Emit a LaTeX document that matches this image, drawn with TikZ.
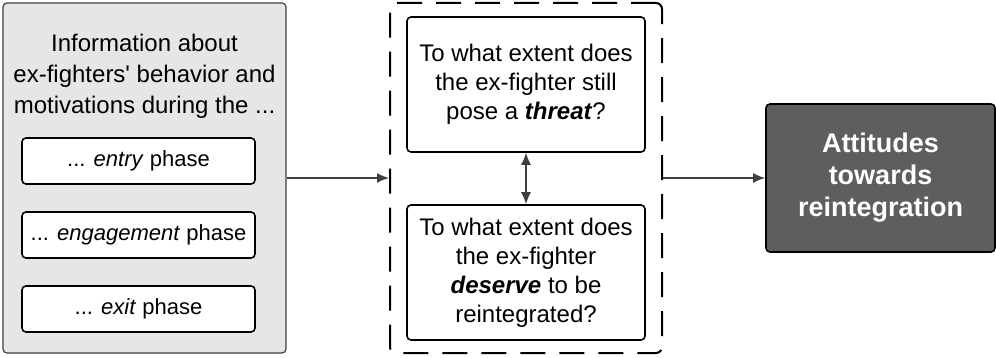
\documentclass[tikz,border=0pt]{standalone}
\usepackage{fontspec}
\setmainfont{Liberation Sans}
\usetikzlibrary{arrows.meta,positioning}
\definecolor{PanelGray}{RGB}{230,230,230}
\definecolor{LineGray}{RGB}{64,64,64}
\definecolor{DarkFill}{RGB}{94,94,94}
\tikzset{
  panel/.style={draw=LineGray,rounded corners=2pt,fill=PanelGray,
    line width=0.6pt,minimum width=141.5pt,minimum height=175pt},
  phasebox/.style={draw=black,rounded corners=2pt,fill=white,
    line width=0.8pt,minimum width=116.5pt,minimum height=23pt,
    inner sep=0pt,font=\fontsize{11}{13.5}\selectfont},
  question/.style={draw=black,rounded corners=2pt,fill=white,
    line width=0.8pt,minimum width=119pt,minimum height=67.5pt,
    inner sep=0pt,align=center,font=\fontsize{12}{14.5}\selectfont},
  frame/.style={draw=black,rounded corners=3pt,line width=1pt,
    dash pattern=on 12.5pt off 7pt,minimum width=136pt,minimum height=175pt},
  outcome/.style={draw=black,rounded corners=2pt,fill=DarkFill,
    line width=0.8pt,minimum width=114.5pt,minimum height=74pt,inner sep=0pt,
    align=center,text=white,font=\fontsize{13.5}{16}\selectfont\bfseries},
  arrow/.style={-{Latex[length=6pt,width=5pt]},line width=0.8pt,LineGray}
}
\begin{document}
\begin{tikzpicture}[x=0.5pt,y=-0.5pt]
  \useasboundingbox (0,0) rectangle (996,358);

  % left panel: behaviour and motivations
  \node[panel] (info) at (144.5,178) {};
  \node[align=center,font=\fontsize{12}{15.5}\selectfont] (infotext) at (144.5,76)
    {Information about\\ex-fighters\textquotesingle\ behavior and\\motivations during the ...};
  \node[phasebox] (entry) at (138.5,161) {... \textit{entry} phase};
  \node[phasebox] (engage) at (138.5,235) {... \textit{engagement} phase};
  \node[phasebox] (exit) at (138.5,309) {... \textit{exit} phase};

  % middle: the two judgements
  \node[frame] (judge) at (526,178) {};
  \node[question] (threat) at (526,84.5)
    {To what extent does\\the ex-fighter still\\pose a \textbf{\textit{threat}}?};
  \node[question] (deserve) at (526,272.5)
    {To what extent does\\the ex-fighter\\\textbf{\textit{deserve}} to be\\reintegrated?};

  % right: outcome
  \node[outcome] (attitude) at (880.5,178) {Attitudes\\towards\\reintegration};

  \draw[arrow] (info.east) -- (judge.west);
  \draw[arrow,{Latex[length=6pt,width=5pt]}-{Latex[length=6pt,width=5pt]},line width=0.6pt] (threat.south) -- (deserve.north);
  \draw[arrow] (judge.east) -- (attitude.west);
\end{tikzpicture}
\end{document}
